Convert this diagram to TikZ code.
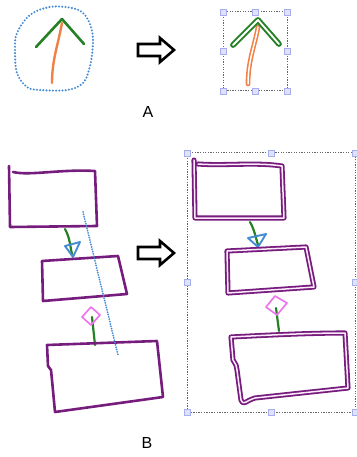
\documentclass[tikz,border=0pt]{standalone}
\usepackage{fontspec}
\setmainfont{Liberation Sans}
\definecolor{purp}{RGB}{118,28,124}
\definecolor{grn}{RGB}{38,128,38}
\definecolor{orng}{RGB}{240,128,70}
\definecolor{blu}{RGB}{70,140,212}
\definecolor{pnk}{RGB}{236,118,236}
\definecolor{hnd}{RGB}{165,175,240}
\tikzset{
  sbox/.style={draw=purp,line width=2.6pt,line join=round,line cap=round},
  dbox/.style={draw=purp,line width=1.8pt,double=white!85!pnk,double distance=1.5pt,line join=round,line cap=round},
  dotblue/.style={draw=blu,line width=2.3pt,line cap=round,dash pattern=on 0pt off 3.2pt},
  selrect/.style={draw=gray!80!black,line width=1pt,dash pattern=on 1.3pt off 1.3pt},
  handle/.style={draw=hnd,fill=hnd!35,line width=0.9pt,minimum size=6pt,inner sep=0pt,rectangle},
  hollow/.style={draw=black,line width=2.6pt,line join=miter},
  lbl/.style={font=\fontsize{16}{18}\selectfont},
  gline/.style={draw=grn,line width=2.2pt,line cap=round},
  pline/.style={draw=pnk,line width=1.7pt,line join=round},
  bline/.style={draw=blu,line width=1.9pt,line join=round}
}
\begin{document}
\begin{tikzpicture}[x=1pt,y=-1pt]
\useasboundingbox (0,0) rectangle (356,457);
% ---------- A left
\draw[dotblue] plot[smooth cycle,tension=0.6] coordinates{(50,7) (72,8) (84,14) (91,27) (93,43) (90,66) (83,83) (67,90) (40,90) (27,87) (17,73) (15,50) (17,33) (30,15)};
\draw[draw=orng,line width=2.4pt,line cap=round] (62,23) .. controls (58,45) and (52,60) .. (52,83);
\draw[gline,line join=round,line width=2.6pt] (36,47) -- (62,19) -- (84,44);
% arrow A
\draw[hollow] (138,44) -- (160,44) -- (160,38) -- (174,50) -- (160,62) -- (160,56) -- (138,56) -- cycle;
\node[lbl] (la) at (148,112) {A};
% ---------- A right
\draw[selrect] (223,12) rectangle (287,91);
\foreach \p in {(223,12),(255,12),(287,12),(223,51),(287,51),(223,91),(255,91),(287,91)}
  \node[handle] at \p {};
\draw[draw=orng,line width=1.6pt,double=white,double distance=1.5pt,line cap=round] (258,27) .. controls (255,45) and (248,60) .. (248,84);
\draw[draw=grn,line width=2pt,double=white,double distance=1.8pt,line cap=round,line join=round] (233,45) -- (258,20) -- (279,44);
% ---------- B left
\draw[sbox] (9,166) -- (10,227) -- (97,226) -- (95,171) .. controls (60,169) and (30,176) .. (13,172);
\draw[gline] (65,229) .. controls (70,238) and (70,246) .. (72,254);
\draw[bline] (65,246) -- (80,242) -- (73,257) -- cycle;
\draw[sbox] (42,261) -- (43,301) -- (127,294) -- (118,256) -- cycle;
\draw[gline] (92,317) -- (95,345);
\draw[pline] (82,317) -- (91,307) -- (100,315) -- (91,325) -- cycle;
\draw[sbox] (47,345) -- (157,341) -- (163,397) -- (55,412) -- (52,380) -- (51,370) -- (48,366) -- cycle;
\draw[dotblue,line width=2pt,dash pattern=on 0pt off 2.4pt] (83,212) -- (118,355);
% arrow B
\draw[hollow] (138,247) -- (160,247) -- (160,241) -- (174,253) -- (160,265) -- (160,259) -- (138,259) -- cycle;
\node[lbl] (lb) at (147,443) {B};
% ---------- B right
\draw[selrect] (187,153) rectangle (355,412);
\foreach \p in {(187,153),(271,153),(355,153),(187,282),(355,282),(187,412),(271,412),(355,412)}
  \node[handle] at \p {};
\draw[dbox] (194,160) -- (195,218) -- (284,218) -- (282,166) .. controls (255,162) and (225,166) .. (198,164);
\draw[gline] (250,222) .. controls (255,231) and (256,239) .. (258,245);
\draw[bline] (248,238) -- (266,234) -- (258,247) -- cycle;
\draw[dbox] (227,251) -- (228,293) -- (314,287) -- (306,247) -- cycle;
\draw[gline] (276,308) -- (279,331);
\draw[pline] (266,307) -- (275,296) -- (287,303) -- (277,315) -- cycle;
\draw[dbox] (231,337) .. controls (270,335) and (310,333) .. (345,333) -- (348,388) -- (255,398) .. controls (245,401) and (244,406) .. (241,400) -- (237,370) -- (236,365) -- (233,360) -- cycle;
\end{tikzpicture}
\end{document}
